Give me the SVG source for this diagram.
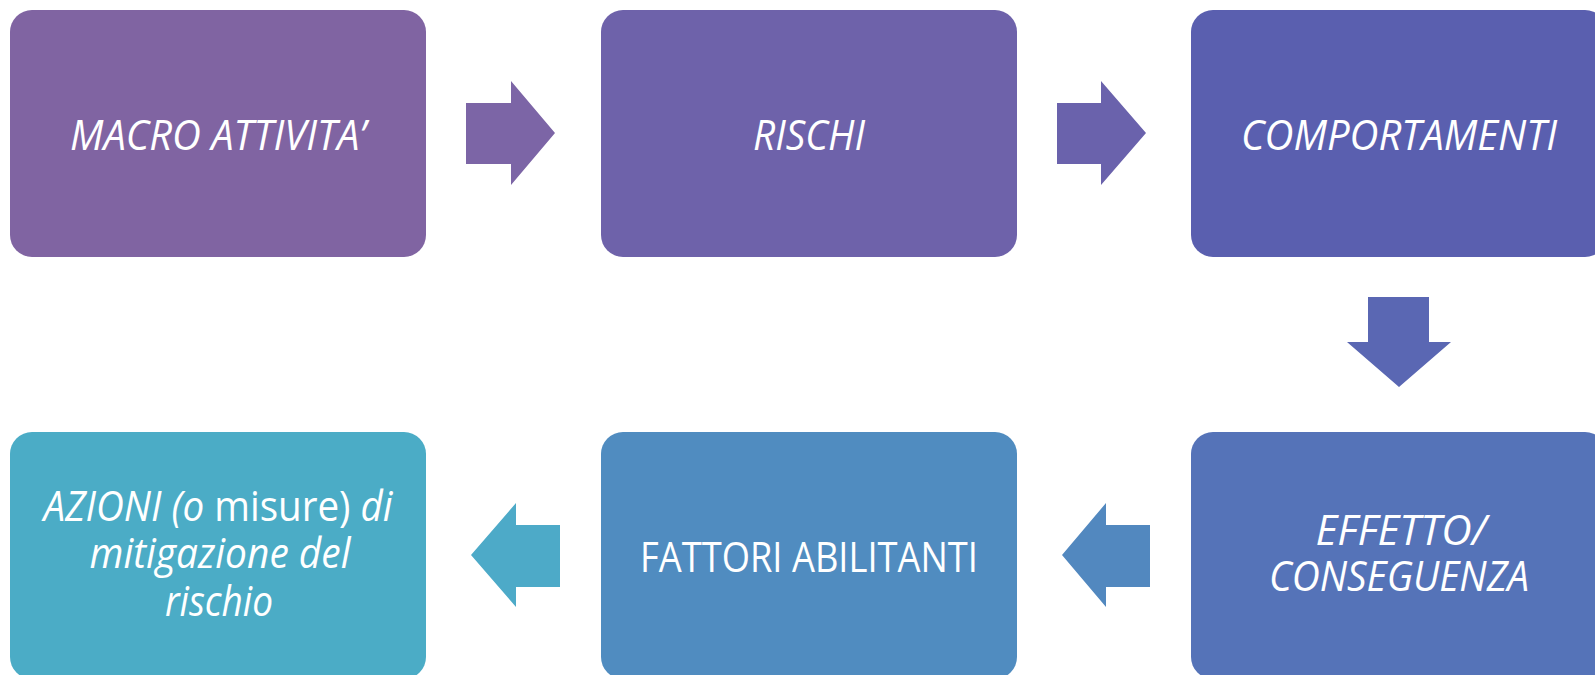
<svg xmlns="http://www.w3.org/2000/svg" width="1595" height="675" viewBox="0 0 1595 675">
<style>
.t{font-family:"Open Sans","Noto Sans","Liberation Sans",sans-serif;font-size:42px;fill:#ffffff;text-anchor:middle}
.i{font-style:italic}
</style>
<rect width="1595" height="675" fill="#ffffff"/>
<g id="connectors">
<polygon points="466,103 511,103 511,81 555,133 511,185 511,164 466,164" fill="#7C65A6"/>
<polygon points="1057,103 1101,103 1101,81 1146,133 1101,185 1101,164 1057,164" fill="#6A62AC"/>
<polygon points="1368,297 1429,297 1429,342 1451,342 1399,387 1347,342 1368,342" fill="#5A67B3"/>
<polygon points="1150,525 1106,525 1106,503 1062,555 1106,607 1106,587 1150,587" fill="#5288BF"/>
<polygon points="560,525 516,525 516,503 471,555 516,607 516,587 560,587" fill="#4DAAC8"/>
</g>
<g id="node-macro">
<rect x="10" y="10" width="416" height="247" rx="22" fill="#8064A2"/>
<text class="t i" x="218" y="150" textLength="296" lengthAdjust="spacingAndGlyphs">MACRO ATTIVITA’</text>
</g>
<g id="node-rischi">
<rect x="601" y="10" width="416" height="247" rx="22" fill="#6E62AA"/>
<text class="t i" x="809" y="150" textLength="112" lengthAdjust="spacingAndGlyphs">RISCHI</text>
</g>
<g id="node-comportamenti">
<rect x="1191" y="10" width="416" height="247" rx="22" fill="#5A5FAF"/>
<text class="t i" x="1399" y="150" textLength="316" lengthAdjust="spacingAndGlyphs">COMPORTAMENTI</text>
</g>
<g id="node-effetto">
<rect x="1191" y="432" width="416" height="247" rx="22" fill="#5573B8"/>
<text class="t i" x="1401" y="545" textLength="171" lengthAdjust="spacingAndGlyphs">EFFETTO/</text>
<text class="t i" x="1399" y="591" textLength="260" lengthAdjust="spacingAndGlyphs">CONSEGUENZA</text>
</g>
<g id="node-fattori">
<rect x="601" y="432" width="416" height="247" rx="22" fill="#508CC0"/>
<text class="t" x="809" y="572" textLength="338" lengthAdjust="spacingAndGlyphs">FATTORI ABILITANTI</text>
</g>
<g id="node-azioni">
<rect x="10" y="432" width="416" height="247" rx="22" fill="#4BACC6"/>
<text class="t" x="218" y="521" textLength="349" lengthAdjust="spacingAndGlyphs"><tspan class="i">AZIONI (o</tspan> misure) <tspan class="i">di</tspan></text>
<text class="t i" x="220" y="568" textLength="261" lengthAdjust="spacingAndGlyphs">mitigazione del</text>
<text class="t i" x="219" y="616" textLength="108" lengthAdjust="spacingAndGlyphs">rischio</text>
</g>
</svg>
